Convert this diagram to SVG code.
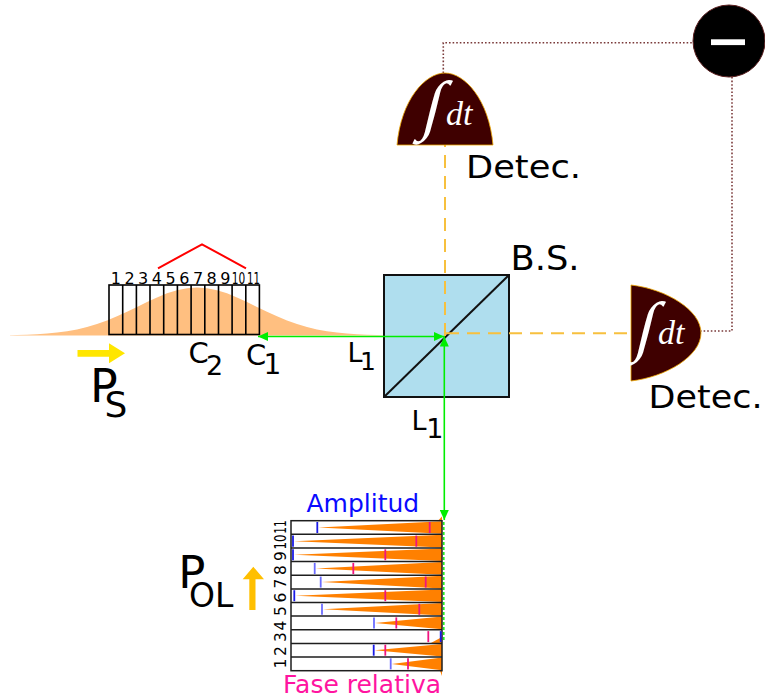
<svg xmlns="http://www.w3.org/2000/svg" width="765" height="698" viewBox="0 0 765 698">
  <style>
    .sans { font-family: "DejaVu Sans", "Liberation Sans", sans-serif; fill: #000; }
    .math { font-family: "Liberation Serif", "DejaVu Serif", serif; font-style: italic; fill: #fff; }
    .bin { fill: none; stroke: #000; stroke-width: 1.6; }
    .beam { fill: none; stroke: #00ee00; stroke-width: 1.6; }
    .probe { fill: none; stroke: #f7c03e; stroke-width: 2; stroke-dasharray: 13 8; }
    .wire { fill: none; stroke: #7a3a3a; stroke-width: 1.6; stroke-dasharray: 1.6 2; }
    .det { fill: #3f0000; stroke: #f0a800; stroke-width: 0.8; }
    .row { fill: none; stroke: #1e1e1e; stroke-width: 1.5; }
    .amp { fill: #ff8000; }
    .tb { stroke: #1a1ae6; stroke-width: 1.8; }
    .tbl { stroke: #6c6cff; stroke-width: 1.8; }
    .tm { stroke: #f0147f; stroke-width: 1.8; }
  </style>
  <defs>
    <marker id="arrowGreen" viewBox="0 0 10 9" refX="10" refY="4.5" markerUnits="userSpaceOnUse" markerWidth="11" markerHeight="9" orient="auto-start-reverse">
      <path d="M0,0 L10,4.5 L0,9 z" fill="#00ee00"/>
    </marker>
  </defs>

  <!-- signal pulse envelope -->
  <g id="pulse">
    <path fill="#ffbf80" d="M10,335.5 L10,335.2 L17,335.0 L27,334.7 L37,334.3 L47,333.6 L57,332.6 L67,331.3 L77,329.4 L87,327.1 L97,324.1 L107,320.5 L117,316.3 L127,311.8 L137,306.9 L147,302.0 L157,297.4 L167,293.3 L177,290.2 L187,288.2 L197,287.5 L207,288.2 L217,290.2 L227,293.3 L237,297.4 L247,302.0 L257,306.9 L267,311.8 L277,316.3 L287,320.5 L297,324.1 L307,327.1 L317,329.4 L327,331.3 L337,332.6 L347,333.6 L357,334.3 L367,334.7 L377,335.0 L384,335.2 L384,335.5 Z"/>
  </g>

  <!-- time bins 1..11 -->
  <g id="bins">
    <rect class="bin" x="109" y="285" width="150.4" height="49.5"/>
    <path class="bin" d="M122.7,285V334.5 M136.4,285V334.5 M150,285V334.5 M163.7,285V334.5 M177.4,285V334.5 M191.1,285V334.5 M204.8,285V334.5 M218.5,285V334.5 M232.1,285V334.5 M245.8,285V334.5"/>
    <g class="sans" font-size="16" text-anchor="middle">
      <text x="115.8" y="284">1</text>
      <text x="129.5" y="284">2</text>
      <text x="143.2" y="284">3</text>
      <text x="156.9" y="284">4</text>
      <text x="170.6" y="284">5</text>
      <text x="184.3" y="284">6</text>
      <text x="198" y="284">7</text>
      <text x="211.6" y="284">8</text>
      <text x="225.3" y="284">9</text>
      <text x="238.6" y="284" font-size="15" textLength="13.5" lengthAdjust="spacingAndGlyphs">10</text>
      <text x="253.4" y="284" font-size="15" textLength="13" lengthAdjust="spacingAndGlyphs">11</text>
    </g>
    <path d="M158,268.3 L202,244.3 L246,268.3" fill="none" stroke="#ff0000" stroke-width="2"/>
  </g>

  <g id="c-labels" class="sans">
    <text x="188.5" y="363" font-size="29">C</text>
    <text x="206" y="375" font-size="27">2</text>
    <text x="246" y="365" font-size="29">C</text>
    <text x="263.5" y="373.5" font-size="28">1</text>
  </g>

  <g id="ps-label">
    <path d="M77.5,350 H109 V343.3 L125,353.3 L109,363.3 V356.7 H77.5 Z" fill="#ffe600"/>
    <text class="sans" x="90" y="401.7" font-size="46">P</text>
    <text class="sans" x="104.5" y="416.5" font-size="36">S</text>
  </g>

  <!-- beam splitter cube -->
  <g id="beam-splitter">
    <rect x="384" y="275" width="125" height="122" fill="#afdeee" stroke="#111" stroke-width="2"/>
    <line x1="384" y1="397" x2="509" y2="275" stroke="#111" stroke-width="2"/>
    <text class="sans" x="510.5" y="270" font-size="34" textLength="69" lengthAdjust="spacingAndGlyphs">B.S.</text>
  </g>

  <g id="l1-labels" class="sans">
    <text x="347.4" y="361.7" font-size="27">L</text>
    <text x="360" y="370" font-size="25">1</text>
    <text x="411.4" y="430" font-size="27">L</text>
    <text x="426.3" y="438.3" font-size="27">1</text>
  </g>

  <!-- beams and wiring -->
  <g id="connectors">
    <line class="probe" x1="445" y1="336" x2="445" y2="145"/>
    <line class="probe" x1="446" y1="333.3" x2="631" y2="333.3"/>
    <path class="beam" d="M444,336.5 H258" marker-start="url(#arrowGreen)" marker-end="url(#arrowGreen)"/>
    <path class="beam" d="M444.3,336.5 V520" marker-start="url(#arrowGreen)" marker-end="url(#arrowGreen)"/>
    <line x1="443.8" y1="522" x2="443.8" y2="642" stroke="#22ee22" stroke-width="1.6" stroke-dasharray="3 2"/>
    <path class="wire" d="M443.3,73 V42.7 H693"/>
    <path class="wire" d="M732,77 V331 H701"/>
  </g>

  <!-- detector facing the beam splitter from above -->
  <g id="detector-top">
    <path class="det" d="M397,145 C401,100 425,73 445,73 C465,73 489,100 493,145 Z"/>
    <text class="math" transform="translate(420,127) skewX(-14)" font-size="66">∫</text>
    <text class="math" x="446" y="125" font-size="34">dt</text>
    <text class="sans" x="466" y="178.3" font-size="32" textLength="115" lengthAdjust="spacingAndGlyphs">Detec.</text>
  </g>

  <!-- detector on the transmitted arm -->
  <g id="detector-right">
    <path class="det" d="M631,285 C666,289 701,310 701,333 C701,356 666,377 631,381 Z"/>
    <text class="math" transform="translate(633,348) skewX(-14)" font-size="66">∫</text>
    <text class="math" x="658" y="344" font-size="34">dt</text>
    <text class="sans" x="648.5" y="408.3" font-size="32" textLength="114" lengthAdjust="spacingAndGlyphs">Detec.</text>
  </g>

  <!-- difference of the two detector signals -->
  <g id="subtractor">
    <circle cx="729" cy="41" r="36" fill="#000" stroke="#5a1e1e" stroke-width="1"/>
    <rect x="711" y="39.3" width="34" height="5.8" fill="#fff"/>
  </g>

  <!-- local oscillator per-bin amplitude and relative phase -->
  <g id="chart">
    <g class="amp">
      <polygon points="318.3,527.5 442,521.2 442,533.8"/>
      <polygon points="294,541.2 442,534.8 442,547.5"/>
      <polygon points="294,554.8 442,548.5 442,561.1"/>
      <polygon points="315.7,568.4 442,562.1 442,574.8"/>
      <polygon points="321.7,582.1 442,575.8 442,588.4"/>
      <polygon points="295.3,595.7 442,589.4 442,602"/>
      <polygon points="323,609.3 442,603 442,615.6"/>
      <polygon points="375,623 442,616.6 442,629.3"/>
      <polygon points="430,643.4 442,637 442,643.4"/>
      <polygon points="374.7,650.2 442,643.9 442,656.5"/>
      <polygon points="391.7,663.9 442,657.5 442,670.2"/>
      <polygon points="438,520.7 442,516.5 442,520.7"/>
      <polygon points="440,670.7 442,670.7 442,676"/>
    </g>
    <rect class="row" x="291" y="520.7" width="151" height="150"/>
    <path class="row" d="M291,534.3H442 M291,548H442 M291,561.6H442 M291,575.3H442 M291,588.9H442 M291,602.5H442 M291,616.1H442 M291,629.8H442 M291,643.4H442 M291,657H442"/>
    <g class="tm">
      <line x1="429.7" y1="522" x2="429.7" y2="533"/>
      <line x1="416.3" y1="535.6" x2="416.3" y2="546.7"/>
      <line x1="385.3" y1="549.3" x2="385.3" y2="560.3"/>
      <line x1="353.3" y1="562.9" x2="353.3" y2="574"/>
      <line x1="425.7" y1="576.6" x2="425.7" y2="587.6"/>
      <line x1="385.3" y1="590.2" x2="385.3" y2="601.2"/>
      <line x1="419.3" y1="603.8" x2="419.3" y2="614.8"/>
      <line x1="396.3" y1="617.4" x2="396.3" y2="628.5"/>
      <line x1="428.3" y1="631.1" x2="428.3" y2="642.1"/>
      <line x1="385.3" y1="644.7" x2="385.3" y2="655.7"/>
      <line x1="408" y1="658.3" x2="408" y2="669.4"/>
    </g>
    <g>
      <line class="tb" x1="317.3" y1="522" x2="317.3" y2="533"/>
      <line class="tb" x1="293" y1="535.6" x2="293" y2="546.7"/>
      <line class="tb" x1="293" y1="549.3" x2="293" y2="560.3"/>
      <line class="tbl" x1="314.7" y1="562.9" x2="314.7" y2="574"/>
      <line class="tbl" x1="320.7" y1="576.6" x2="320.7" y2="587.6"/>
      <line class="tb" x1="294.3" y1="590.2" x2="294.3" y2="601.2"/>
      <line class="tbl" x1="322" y1="603.8" x2="322" y2="614.8"/>
      <line class="tbl" x1="374" y1="617.4" x2="374" y2="628.5"/>
      <line class="tb" x1="440.7" y1="631.1" x2="440.7" y2="642.1"/>
      <line class="tb" x1="373.7" y1="644.7" x2="373.7" y2="655.7"/>
      <line class="tbl" x1="390.7" y1="658.3" x2="390.7" y2="669.4"/>
    </g>
    <g class="sans" font-size="15.5" text-anchor="middle">
      <text transform="translate(286,663.5) rotate(-90)">1</text>
      <text transform="translate(286,651) rotate(-90)">2</text>
      <text transform="translate(286,637) rotate(-90)">3</text>
      <text transform="translate(286,625.5) rotate(-90)">4</text>
      <text transform="translate(286,611) rotate(-90)">5</text>
      <text transform="translate(286,597.5) rotate(-90)">6</text>
      <text transform="translate(286,583.5) rotate(-90)">7</text>
      <text transform="translate(286,570) rotate(-90)">8</text>
      <text transform="translate(286,556) rotate(-90)">9</text>
      <text transform="translate(286,542) rotate(-90)" textLength="15" lengthAdjust="spacingAndGlyphs">10</text>
      <text transform="translate(286,527) rotate(-90)" textLength="13.5" lengthAdjust="spacingAndGlyphs">11</text>
    </g>
    <text x="306.5" y="512" font-family="DejaVu Sans, Liberation Sans, sans-serif" font-size="25" fill="#0a0aff">Amplitud</text>
    <text x="283" y="693" font-family="DejaVu Sans, Liberation Sans, sans-serif" font-size="25" fill="#ff14a0">Fase relativa</text>
  </g>

  <g id="pol-label">
    <path d="M249.3,610 V579.3 H242.7 L253.3,566.7 L264,579.3 H255.5 V610 Z" fill="#ffbf00"/>
    <text class="sans" x="178.3" y="588" font-size="45">P</text>
    <text class="sans" x="189" y="607.3" font-size="33">OL</text>
  </g>
</svg>
